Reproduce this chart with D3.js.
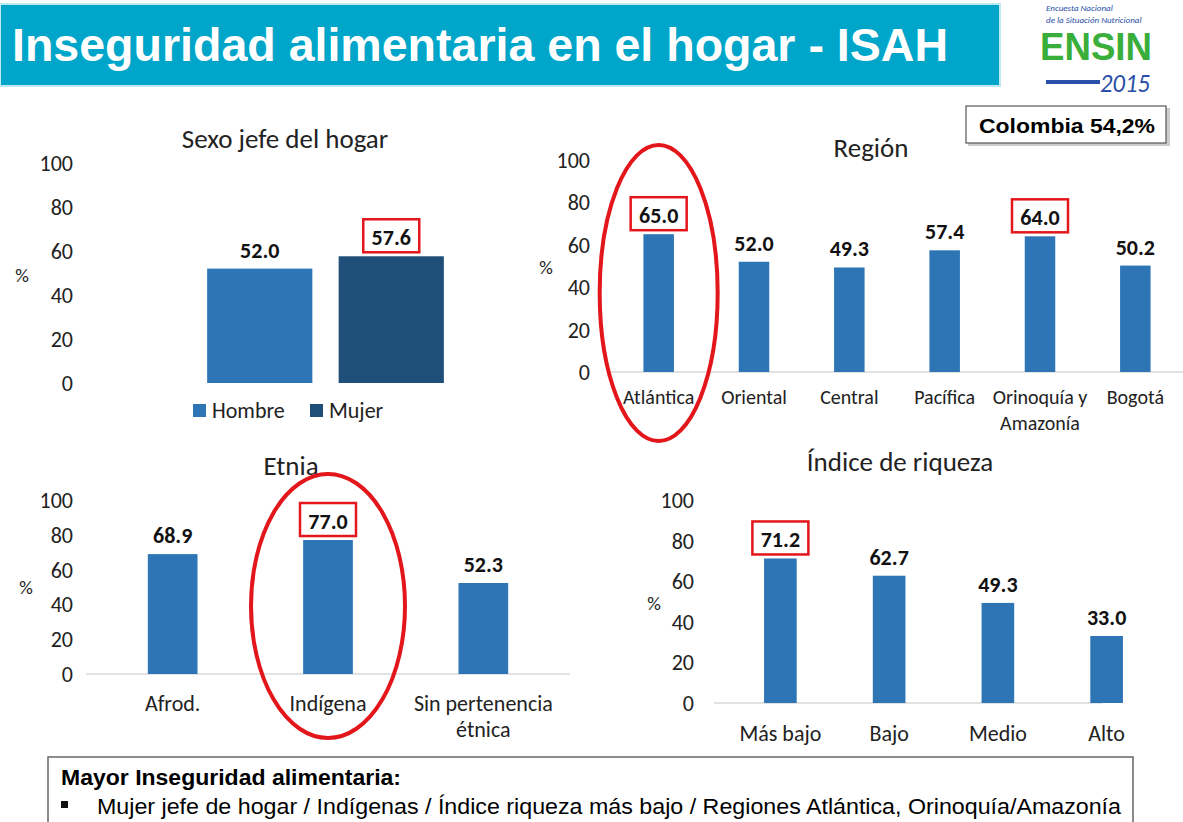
<!DOCTYPE html>
<html lang="es">
<head>
<meta charset="UTF-8">
<title>Inseguridad alimentaria en el hogar - ISAH</title>
<style type="text/css">
    html, body { padding:0; margin:0; background:#fff; }
    svg { display:block; }
</style>
</head>
<body>
<script src="https://d3js.org/d3.v7.min.js"></script>
<script>
    // data
    var sexoCats = ['Hombre', 'Mujer'];
    var sexoVals = [52.0, 57.6];
    var regionCats = ['Atlántica', 'Oriental', 'Central', 'Pacífica', 'Orinoquía y|Amazonía', 'Bogotá'];
    var regionVals = [65.0, 52.0, 49.3, 57.4, 64.0, 50.2];
    var etniaCats = ['Afrod.', 'Indígena', 'Sin pertenencia|étnica'];
    var etniaVals = [68.9, 77.0, 52.3];
    var riquezaCats = ['Más bajo', 'Bajo', 'Medio', 'Alto'];
    var riquezaVals = [71.2, 62.7, 49.3, 33.0];
    var yTicks = [0, 20, 40, 60, 80, 100];

    var W = 1183, H = 822;
    var font = 'Carlito, Calibri, Lato, "Open Sans", sans-serif';
    var narrow = '"Liberation Sans Narrow", "Arial Narrow", "Liberation Sans", sans-serif';
    var blue = '#2e75b6', navy = '#1f4e79', red = '#e3161b';

    var svg = d3.select('body').append('svg')
        .attr('width', W).attr('height', H)
        .style('font-family', font);

    // header
    svg.append('rect').attr('x', 0).attr('y', 4).attr('width', 1000).attr('height', 82)
        .attr('fill', '#00a6c9').attr('stroke', '#bfe9f2').attr('stroke-width', 2);
    svg.append('text').attr('x', 12).attr('y', 61)
        .attr('fill', '#fff').attr('font-weight', 'bold')
        .attr('font-family', '"Liberation Sans", Arial, sans-serif')
        .attr('font-size', 46)
        .attr('textLength', 936).attr('lengthAdjust', 'spacingAndGlyphs')
        .text('Inseguridad alimentaria en el hogar - ISAH');

    // logo
    var logo = svg.append('g');
    logo.append('text').attr('x', 1046).attr('y', 11).attr('font-size', 9)
        .attr('font-style', 'italic').attr('fill', '#2a4fa8').text('Encuesta Nacional');
    logo.append('text').attr('x', 1046).attr('y', 23).attr('font-size', 9)
        .attr('font-style', 'italic').attr('fill', '#2a4fa8').text('de la Situación Nutricional');
    logo.append('text').attr('x', 1040).attr('y', 60).attr('font-size', 38)
        .attr('font-weight', 'bold').attr('fill', '#3aae3a')
        .attr('font-family', '"Liberation Sans", Arial, sans-serif')
        .attr('textLength', 112).attr('lengthAdjust', 'spacingAndGlyphs').text('ENSIN');
    logo.append('rect').attr('x', 1046).attr('y', 80).attr('width', 54).attr('height', 4).attr('fill', '#2a4fa8');
    logo.append('text').attr('x', 1100).attr('y', 92).attr('font-size', 26)
        .attr('font-style', 'italic').attr('fill', '#2a4fa8')
        .attr('textLength', 50).attr('lengthAdjust', 'spacingAndGlyphs').text('2015');

    // Colombia box
    svg.append('rect').attr('x', 968).attr('y', 108).attr('width', 202).attr('height', 38)
        .attr('fill', '#ccc');
    svg.append('rect').attr('x', 966).attr('y', 106).attr('width', 200).attr('height', 37)
        .attr('fill', '#fff').attr('stroke', '#555').attr('stroke-width', 1.2);
    svg.append('text').attr('x', 1067).attr('y', 133).attr('text-anchor', 'middle')
        .attr('font-family', '"Liberation Sans", Arial, sans-serif')
        .attr('font-weight', 'bold').attr('font-size', 21)
        .attr('textLength', 176).attr('lengthAdjust', 'spacingAndGlyphs').text('Colombia 54,2%');

    function panel(o) {
        var g = svg.append('g');
        var y = d3.scaleLinear().domain([0, 100]).range([o.y0, o.y1]);
        var x = d3.scaleBand().domain(o.cats).range([o.x0, o.x1]).paddingInner(o.pad).paddingOuter(o.pad / 2);

        g.append('text').attr('x', o.tx).attr('y', o.ty).attr('text-anchor', 'middle')
            .attr('font-size', 27).attr('fill', '#222').text(o.title);

        g.selectAll('.ytick').data(yTicks).enter().append('text')
            .attr('x', o.axisX).attr('y', function(d) { return y(d) + 8; })
            .attr('text-anchor', 'end').attr('font-size', 22).attr('fill', '#222')
            .text(function(d) { return d; });
        g.append('text').attr('x', o.pctX).attr('y', o.pctY).attr('text-anchor', 'middle')
            .attr('font-size', 19).attr('fill', '#222').text('%');

        if (o.baseline) {
            g.append('line').attr('x1', o.baseline[0]).attr('x2', o.baseline[1])
                .attr('y1', y(0)).attr('y2', y(0)).attr('stroke', '#d9d9d9').attr('stroke-width', 1.5);
        }

        g.selectAll('.bar').data(o.vals).enter().append('rect')
            .attr('x', function(d, i) { return x(o.cats[i]); })
            .attr('y', function(d) { return y(d); })
            .attr('width', x.bandwidth())
            .attr('height', function(d) { return y(0) - y(d); })
            .attr('fill', function(d, i) { return o.colors ? o.colors[i] : blue; });

        g.selectAll('.val').data(o.vals).enter().append('text')
            .attr('x', function(d, i) { return x(o.cats[i]) + x.bandwidth() / 2; })
            .attr('y', function(d) { return y(d) - 11; })
            .attr('text-anchor', 'middle').attr('font-weight', 'bold').attr('font-size', 22)
            .attr('fill', '#111')
            .text(function(d) { return d.toFixed(1); });

        // red boxes around highlighted values
        (o.boxed || []).forEach(function(i) {
            var cx = x(o.cats[i]) + x.bandwidth() / 2, ty = y(o.vals[i]);
            g.append('rect').attr('x', cx - 28).attr('y', ty - 37).attr('width', 56).attr('height', 33)
                .attr('fill', 'none').attr('stroke', red).attr('stroke-width', 2.5);
        });

        if (o.showCats) {
            o.cats.forEach(function(c, i) {
                var lines = c.split('|');
                var t = g.append('text').attr('text-anchor', 'middle').attr('font-size', o.catSize).attr('fill', '#222');
                lines.forEach(function(l, k) {
                    t.append('tspan').attr('x', x(c) + x.bandwidth() / 2)
                        .attr('y', o.catY + k * 26).text(l);
                });
            });
        }

        (o.ellipse || []).forEach(function(e) {
            var cx = x(o.cats[e.i]) + x.bandwidth() / 2;
            g.append('ellipse').attr('cx', cx).attr('cy', e.cy).attr('rx', e.rx).attr('ry', e.ry)
                .attr('fill', 'none').attr('stroke', red).attr('stroke-width', 4);
        });
        return x;
    }

    // Sexo jefe del hogar
    panel({
        title: 'Sexo jefe del hogar', tx: 285, ty: 148,
        cats: sexoCats, vals: sexoVals, colors: [blue, navy],
        x0: 194, x1: 457, pad: 0.2, y0: 383, y1: 163,
        axisX: 73, pctX: 22, pctY: 282, boxed: [1], showCats: false
    });
    var leg = svg.append('g');
    sexoCats.forEach(function(c, i) {
        var lx = i === 0 ? 193 : 310;
        leg.append('rect').attr('x', lx).attr('y', 404).attr('width', 13).attr('height', 13)
            .attr('fill', i === 0 ? blue : navy);
        leg.append('text').attr('x', lx + 19).attr('y', 418).attr('font-size', 22).attr('fill', '#222').text(c);
    });

    // Región
    panel({
        title: 'Región', tx: 871, ty: 157,
        cats: regionCats, vals: regionVals,
        x0: 611, x1: 1183, pad: 0.68, y0: 372, y1: 160,
        axisX: 590, pctX: 546, pctY: 274, boxed: [0, 4], showCats: true, catY: 404, catSize: 20,
        baseline: [611, 1183],
        ellipse: [{ i: 0, cy: 293, rx: 59, ry: 148 }]
    });

    // Etnia
    panel({
        title: 'Etnia', tx: 291, ty: 475,
        cats: etniaCats, vals: etniaVals,
        x0: 95, x1: 561, pad: 0.68, y0: 674, y1: 500,
        axisX: 73, pctX: 26, pctY: 594, boxed: [1], showCats: true, catY: 711, catSize: 22,
        baseline: [86, 570],
        ellipse: [{ i: 1, cy: 606, rx: 77, ry: 132 }]
    });

    // Índice de riqueza
    panel({
        title: 'Índice de riqueza', tx: 900, ty: 471,
        cats: riquezaCats, vals: riquezaVals,
        x0: 726, x1: 1161, pad: 0.7, y0: 703, y1: 500,
        axisX: 694, pctX: 654, pctY: 610, boxed: [0], showCats: true, catY: 741, catSize: 22,
        baseline: [714, 1103]
    });

    // bottom note
    svg.append('rect').attr('x', 48).attr('y', 757).attr('width', 1085).attr('height', 80)
        .attr('fill', '#fff').attr('stroke', '#666').attr('stroke-width', 1.5);
    svg.append('text').attr('x', 61).attr('y', 785)
        .attr('font-family', narrow)
        .attr('font-weight', 'bold').attr('font-size', 22)
        .attr('textLength', 340).attr('lengthAdjust', 'spacingAndGlyphs')
        .text('Mayor Inseguridad alimentaria:');
    svg.append('rect').attr('x', 61).attr('y', 801).attr('width', 7).attr('height', 7).attr('fill', '#111');
    svg.append('text').attr('x', 97).attr('y', 814)
        .attr('font-family', narrow)
        .attr('font-size', 22)
        .attr('textLength', 1024).attr('lengthAdjust', 'spacingAndGlyphs')
        .text('Mujer jefe de hogar / Indígenas / Índice riqueza más bajo / Regiones Atlántica, Orinoquía/Amazonía');
</script>
</body>
</html>
